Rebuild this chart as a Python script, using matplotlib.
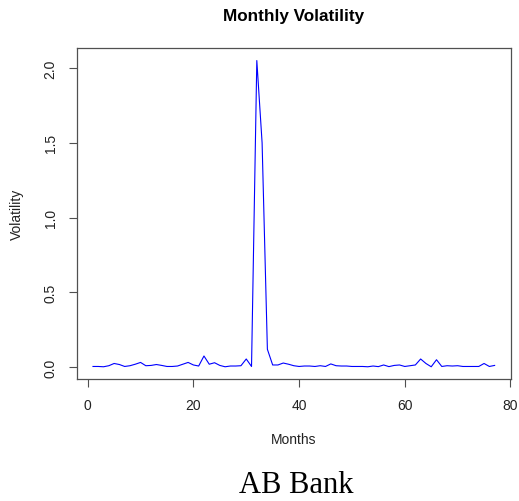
import matplotlib
matplotlib.use("Agg")
from matplotlib import pyplot as plt

# monthly volatility values, months 1..77
months = list(range(1, 78))
volatility = [0.005, 0.005, 0.003, 0.010, 0.025, 0.018, 0.005, 0.010, 0.020, 0.032,
              0.010, 0.012, 0.018, 0.012, 0.005, 0.005, 0.008, 0.020, 0.032, 0.015,
              0.008, 0.075, 0.020, 0.030, 0.012, 0.003, 0.008, 0.008, 0.010, 0.055,
              0.005, 2.050, 1.500, 0.120, 0.015, 0.015, 0.028, 0.020, 0.010, 0.005,
              0.008, 0.008, 0.005, 0.010, 0.005, 0.022, 0.010, 0.008, 0.008, 0.005,
              0.005, 0.005, 0.003, 0.008, 0.004, 0.015, 0.004, 0.012, 0.015, 0.005,
              0.010, 0.015, 0.055, 0.025, 0.003, 0.050, 0.005, 0.010, 0.008, 0.010,
              0.005, 0.005, 0.005, 0.005, 0.025, 0.005, 0.012]
xticks = [0, 20, 40, 60, 80]
yticks = [0.0, 0.5, 1.0, 1.5, 2.0]

plt.rcParams['font.family'] = ['Liberation Sans', 'DejaVu Sans']

fig = plt.figure(figsize=(5.19, 5.02), dpi=100)
ax = fig.add_axes([0.1482, 0.2430, 0.8358, 0.6588])
ax.plot(months, volatility, color='#0000ff', linewidth=0.8)

# R-style axis ranges (4% padding)
xr = max(months) - min(months)
yr = max(volatility) - min(volatility)
ax.set_xlim(min(months) - 0.04 * xr, max(months) + 0.04 * xr)
ax.set_ylim(min(volatility) - 0.04 * yr, max(volatility) + 0.04 * yr)

ax.set_xticks(xticks, [str(x) for x in xticks])
ax.set_yticks(yticks, [f'{y:.1f}' for y in yticks])
for lab in ax.get_yticklabels():
    lab.set_rotation(90)
    lab.set_va('center')
ax.tick_params(direction='out', length=5.8, width=0.8, color='#505050',
               labelsize=10, pad=8, labelcolor='#222222')
for sp in ax.spines.values():
    sp.set_color('#505050')
    sp.set_linewidth(0.9)

ax.set_xlabel('Months', fontsize=10, va='center', color='#222222')
ax.xaxis.set_label_coords(0.5, -0.1814)
ax.set_ylabel('Volatility', fontsize=10, va='center', color='#222222')
ax.yaxis.set_label_coords(-0.138, 0.5)

fig.text(0.5665, 0.9667, 'Monthly Volatility', ha='center', va='center',
         fontsize=12.3, fontweight='bold')
fig.text(0.570, 0.0185, 'AB Bank', ha='center', va='baseline', fontsize=22,
         family=['Liberation Serif', 'DejaVu Serif'])

fig.savefig('out.png', dpi=100)
